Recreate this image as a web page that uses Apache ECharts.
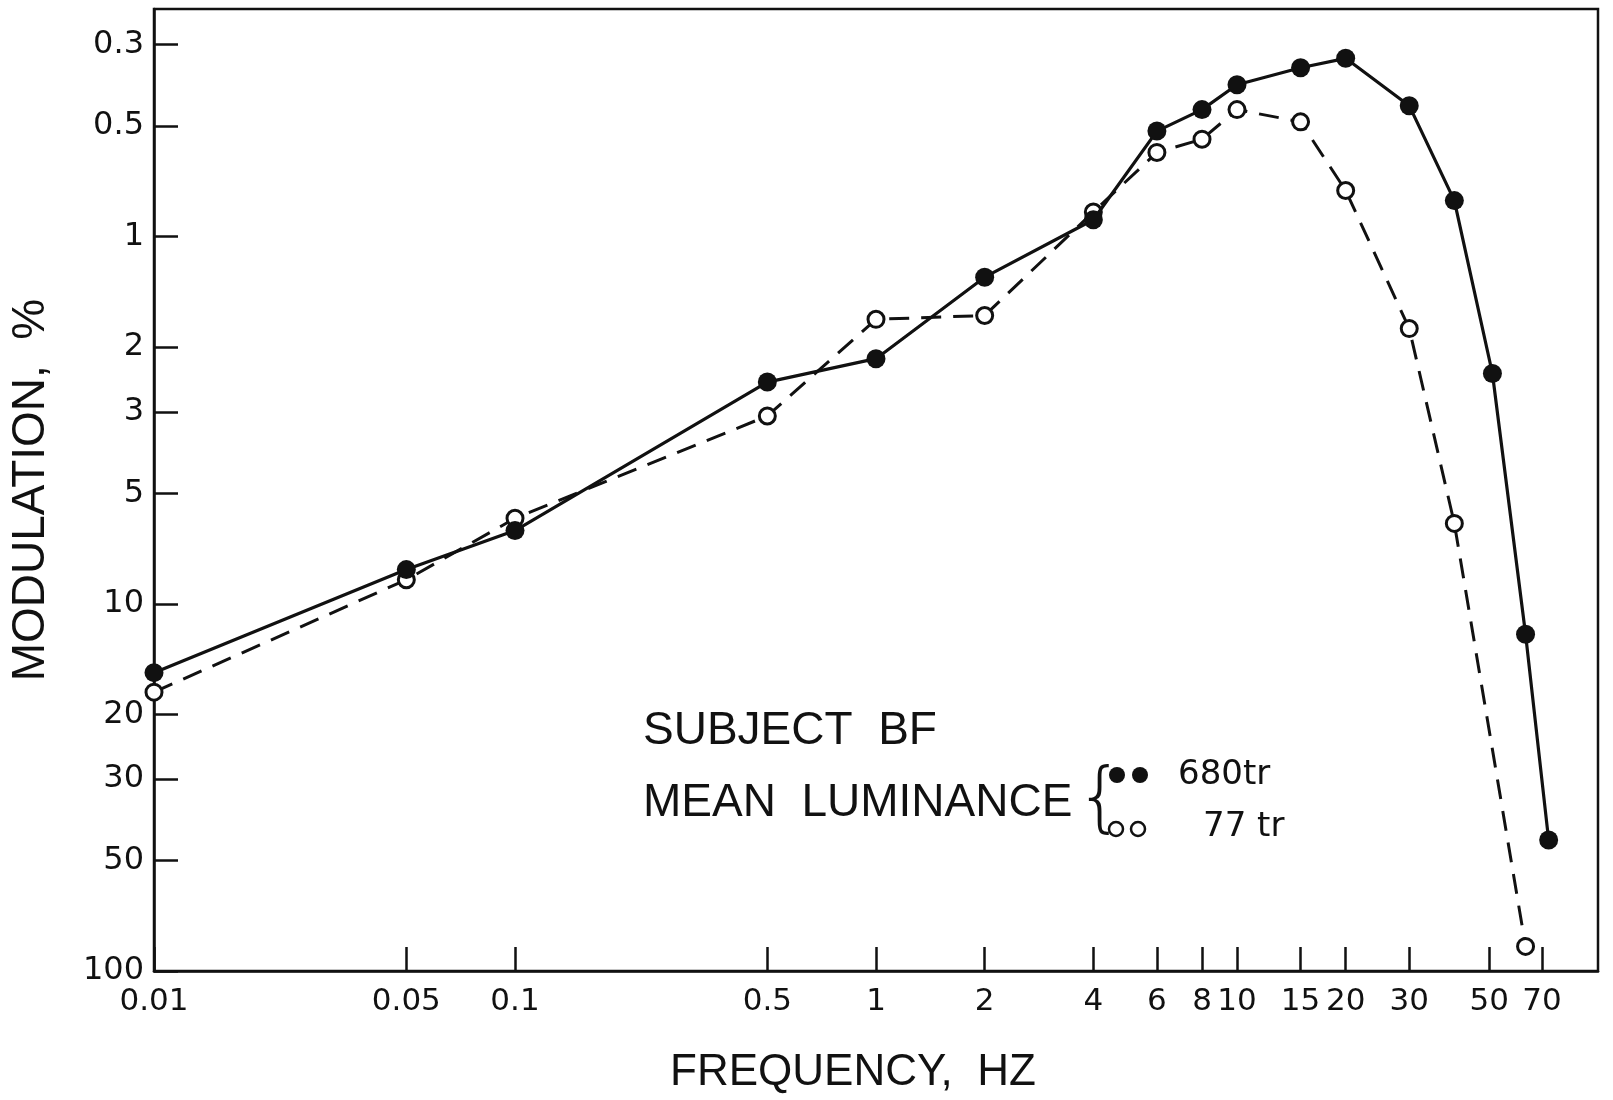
<!DOCTYPE html>
<html><head><meta charset="utf-8">
<script src="https://cdn.jsdelivr.net/npm/echarts@6/dist/echarts.min.js"></script>
<style>html,body{margin:0;padding:0;background:#fff}#c{width:1613px;height:1100px}</style>
</head><body><div id="c"></div>
<script>
// Frequencies (Hz) and modulation thresholds (%)
const freq680 = [0.01, 0.05, 0.1, 0.5, 1, 2, 4, 6, 8, 10, 15, 20, 30, 40, 51, 63, 73];
const mod680  = [15.4, 8.07, 6.32, 2.49, 2.15, 1.29, 0.90, 0.516, 0.451, 0.386, 0.347, 0.327, 0.44, 0.798, 2.36, 12.1, 44];
const freq77  = [0.01, 0.05, 0.1, 0.5, 1, 2, 4, 6, 8, 10, 15, 20, 30, 40, 63];
const mod77   = [17.4, 8.6, 5.85, 3.08, 1.68, 1.64, 0.857, 0.59, 0.543, 0.451, 0.487, 0.749, 1.78, 6.04, 85.7];
const xTicks = [0.01, 0.05, 0.1, 0.5, 1, 2, 4, 6, 8, 10, 15, 20, 30, 50, 70];
const yTicks = [0.3, 0.5, 1, 2, 3, 5, 10, 20, 30, 50, 100];
const xTitle = 'FREQUENCY,  HZ';
const yTitle = 'MODULATION,  %';
const noteLines = ['SUBJECT  BF', 'MEAN  LUMINANCE'];
const legendLabels = ['680tr', '77 tr'];

const FONT = 'Liberation Sans';
const TICKFONT = 'DejaVu Sans';
const INK = '#111';
const fmt = v => String(+(+v).toPrecision(6));

const chart = echarts.init(document.getElementById('c'), null, {renderer: 'canvas'});
chart.setOption({
  animation: false,
  backgroundColor: '#fff',
  grid: {left: 152, top: 9, right: 15, bottom: 128, show: true, borderColor: INK, borderWidth: 2.5, backgroundColor: 'transparent'},
  xAxis: {
    type: 'log', logBase: 10, min: 0.01, max: 100,
    name: xTitle, nameLocation: 'middle', nameGap: 80,
    nameTextStyle: {fontFamily: FONT, fontSize: 44, color: INK, padding: [0, 46, 0, 0]},
    axisLine: {show: true, lineStyle: {color: INK, width: 2.5}},
    axisTick: {show: true, inside: true, length: 24, lineStyle: {color: INK, width: 2.5}, customValues: xTicks},
    axisLabel: {show: true, fontFamily: TICKFONT, fontSize: 31, color: INK, margin: 15, customValues: xTicks, formatter: fmt, hideOverlap: false},
    splitLine: {show: false}, minorTick: {show: false}
  },
  yAxis: {
    type: 'log', logBase: 10, min: 0.24, max: 100, inverse: true,
    name: yTitle, nameLocation: 'middle', nameGap: 100,
    nameTextStyle: {fontFamily: FONT, fontSize: 46, color: INK},
    axisLine: {show: true, lineStyle: {color: INK, width: 2.5}},
    axisTick: {show: true, inside: true, length: 24, lineStyle: {color: INK, width: 2.5}, customValues: yTicks},
    axisLabel: {show: true, fontFamily: TICKFONT, fontSize: 32, color: INK, margin: 10, customValues: yTicks, formatter: fmt, hideOverlap: false},
    splitLine: {show: false}, minorTick: {show: false}
  },
  series: [
    {
      name: '77 tr', type: 'line', data: freq77.map((f, i) => [f, mod77[i]]),
      symbol: 'circle', symbolSize: 16, z: 2,
      lineStyle: {color: INK, width: 3, type: [20, 12]},
      itemStyle: {color: '#fff', borderColor: INK, borderWidth: 3}
    },
    {
      name: '680tr', type: 'line', data: freq680.map((f, i) => [f, mod680[i]]),
      symbol: 'circle', symbolSize: 19, z: 3,
      lineStyle: {color: INK, width: 3.2},
      itemStyle: {color: INK}
    }
  ],
  graphic: [
    {type: 'text', left: 643, top: 708, style: {text: noteLines[0], font: '46px "' + FONT + '"', fill: INK}},
    {type: 'text', left: 643, top: 780, style: {text: noteLines[1], font: '46px "' + FONT + '"', fill: INK}},
    {type: 'text', left: 1076, top: 764, style: {text: '{', font: '300 76px "DejaVu Sans"', fill: INK}},
    {type: 'circle', shape: {cx: 1117, cy: 775, r: 8}, style: {fill: INK}},
    {type: 'circle', shape: {cx: 1140, cy: 775, r: 8}, style: {fill: INK}},
    {type: 'circle', shape: {cx: 1116, cy: 829, r: 7}, style: {fill: '#fff', stroke: INK, lineWidth: 2.5}},
    {type: 'circle', shape: {cx: 1138, cy: 829, r: 7}, style: {fill: '#fff', stroke: INK, lineWidth: 2.5}},
    {type: 'text', left: 1178, top: 758, style: {text: legendLabels[0], font: '34px "' + TICKFONT + '"', fill: INK}},
    {type: 'text', left: 1203, top: 810, style: {text: legendLabels[1], font: '34px "' + TICKFONT + '"', fill: INK}}
  ]
});
</script></body></html>
